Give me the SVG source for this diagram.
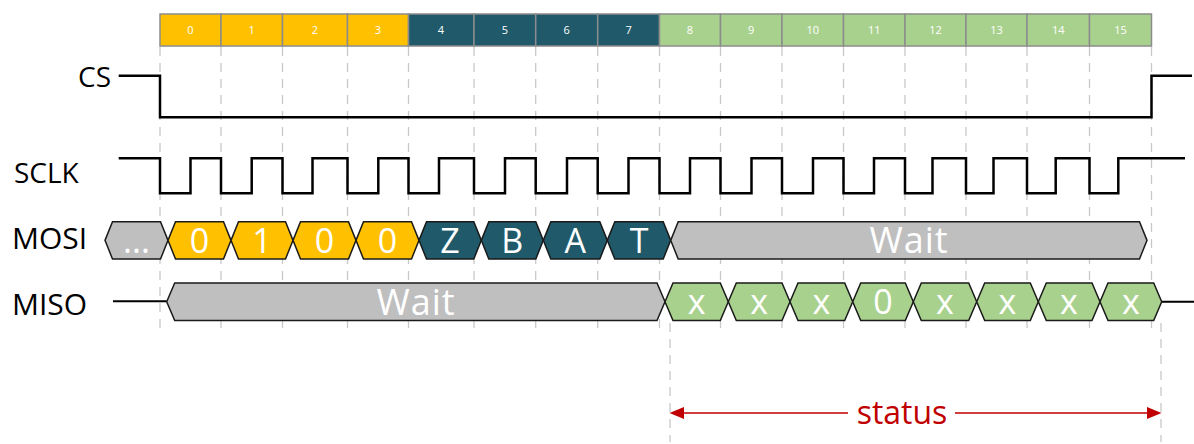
<svg xmlns="http://www.w3.org/2000/svg" width="1194" height="444" viewBox="0 0 1194 444">
<style>
.cell{stroke:#8C8C8C;stroke-width:1.5}
.y{fill:#FFC000}.t{fill:#205A6A}.g{fill:#A9D18E}.gr{fill:#BFBFBF}
.num{font-family:"Open Sans","Liberation Sans",sans-serif;font-size:11px;fill:#FFFFFF;text-anchor:middle}
.lbl{font-family:"Open Sans","Liberation Sans",sans-serif;font-size:28px;fill:#000}
.hx{stroke:#1A1A1A;stroke-width:1.5}
.ht{font-family:"Open Sans","Liberation Sans",sans-serif;font-size:34px;fill:#FFFFFF;text-anchor:middle}
.wt{font-family:"Open Sans","Liberation Sans",sans-serif;font-size:36px;fill:#FFFFFF;text-anchor:middle;letter-spacing:1px}
.grid{stroke:#C8C8C8;stroke-width:1.3;stroke-dasharray:9 7;fill:none}
.sig{stroke:#000;stroke-width:2.5;fill:none}
.red{stroke:#C00000;stroke-width:1.6;fill:none}
</style>
<g id="grid">
<path class="grid" d="M160,47V333M221,47V333M282.5,47V333M347.5,47V333M408.5,47V333M474,47V333M535.7,47V333M597.7,47V333M659.5,47V333M720.5,47V333M782,47V333M843.5,47V333M905,47V333M966,47V333M1027,47V333M1089.5,47V333M1151.5,47V333"/>
<path class="grid" d="M670,323V442M1161,323V442"/>
</g>
<g id="bitbar">
<rect class="cell y" x="160" y="14" width="61" height="32"/>
<rect class="cell y" x="221" y="14" width="61.5" height="32"/>
<rect class="cell y" x="282.5" y="14" width="65" height="32"/>
<rect class="cell y" x="347.5" y="14" width="61" height="32"/>
<rect class="cell t" x="408.5" y="14" width="65.5" height="32"/>
<rect class="cell t" x="474" y="14" width="61.7" height="32"/>
<rect class="cell t" x="535.7" y="14" width="62" height="32"/>
<rect class="cell t" x="597.7" y="14" width="61.8" height="32"/>
<rect class="cell g" x="659.5" y="14" width="61" height="32"/>
<rect class="cell g" x="720.5" y="14" width="61.5" height="32"/>
<rect class="cell g" x="782" y="14" width="61.5" height="32"/>
<rect class="cell g" x="843.5" y="14" width="61.5" height="32"/>
<rect class="cell g" x="905" y="14" width="61" height="32"/>
<rect class="cell g" x="966" y="14" width="61" height="32"/>
<rect class="cell g" x="1027" y="14" width="62.5" height="32"/>
<rect class="cell g" x="1089.5" y="14" width="62" height="32"/>
<text class="num" x="190.5" y="34">0</text>
<text class="num" x="251.7" y="34">1</text>
<text class="num" x="315" y="34">2</text>
<text class="num" x="378" y="34">3</text>
<text class="num" x="441" y="34">4</text>
<text class="num" x="505" y="34">5</text>
<text class="num" x="566.7" y="34">6</text>
<text class="num" x="628.6" y="34">7</text>
<text class="num" x="690" y="34">8</text>
<text class="num" x="751.2" y="34">9</text>
<text class="num" x="812.7" y="34">10</text>
<text class="num" x="874.2" y="34">11</text>
<text class="num" x="935.5" y="34">12</text>
<text class="num" x="996.5" y="34">13</text>
<text class="num" x="1058.2" y="34">14</text>
<text class="num" x="1120.5" y="34">15</text>
</g>
<g id="cs">
<text class="lbl" x="111" y="87" text-anchor="end">CS</text>
<path class="sig" d="M118.7,75.7H160V117.3H1151.5V75.7H1192"/>
</g>
<g id="sclk">
<text class="lbl" x="14" y="183">SCLK</text>
<path class="sig" d="M118.7,158.3H160V193.3H190.5V158.3H221V193.3H251.7V158.3H282.5V193.3H312.5V158.3H347.5V193.3H378.3V158.3H408.5V193.3H439V158.3H474V193.3H505V158.3H535.7V193.3H567V158.3H597.7V193.3H628.5V158.3H659.5V193.3H690V158.3H720.5V193.3H751.5V158.3H782V193.3H813V158.3H843.5V193.3H874V158.3H905V193.3H932.5V158.3H966V193.3H993.5V158.3H1027V193.3H1055.7V158.3H1089.5V193.3H1118.3V158.3H1185"/>
</g>
<g id="mosi">
<text class="lbl" x="12" y="248.5" style="font-size:30px">MOSI</text>
<path class="hx gr" d="M105,240.35L112.5,221.7H160.5L168,240.35L160.5,259H112.5Z"/>
<path class="hx y" d="M168,240.35L175.5,221.7H223.5L231,240.35L223.5,259H175.5Z"/>
<path class="hx y" d="M231,240.35L238.5,221.7H285.5L293,240.35L285.5,259H238.5Z"/>
<path class="hx y" d="M293,240.35L300.5,221.7H348.5L356,240.35L348.5,259H300.5Z"/>
<path class="hx y" d="M356,240.35L363.5,221.7H411.5L419,240.35L411.5,259H363.5Z"/>
<path class="hx t" d="M419,240.35L426.5,221.7H473.8L481.3,240.35L473.8,259H426.5Z"/>
<path class="hx t" d="M481.3,240.35L488.8,221.7H535.8L543.3,240.35L535.8,259H488.8Z"/>
<path class="hx t" d="M543.3,240.35L550.8,221.7H599.8L607.3,240.35L599.8,259H550.8Z"/>
<path class="hx t" d="M607.3,240.35L614.8,221.7H663.2L670.7,240.35L663.2,259H614.8Z"/>
<path class="hx gr" d="M670.7,240.35L678.2,221.7H1139.5L1147,240.35L1139.5,259H678.2Z"/>
<text class="ht" x="136.5" y="253">...</text>
<text class="ht" x="199.5" y="252.5">0</text>
<text class="ht" x="262" y="252.5">1</text>
<text class="ht" x="324.5" y="252.5">0</text>
<text class="ht" x="387.5" y="252.5">0</text>
<text class="ht" x="450" y="252.5">Z</text>
<text class="ht" x="512.3" y="252.5">B</text>
<text class="ht" x="575.3" y="252.5">A</text>
<text class="ht" x="639" y="252.5">T</text>
<text class="wt" x="909" y="252.5">Wait</text>
</g>
<g id="miso">
<text class="lbl" x="12" y="314.5" style="font-size:30px">MISO</text>
<path class="sig" d="M113,301.2H166.7M1161.7,301.7H1194" style="stroke-width:2"/>
<path class="hx gr" d="M166.7,301.75L174.7,283H657L665,301.75L657,320.5H174.7Z"/>
<path class="hx g" d="M665,301.75L673,283H720.3L728.3,301.75L720.3,320.5H673Z"/>
<path class="hx g" d="M728.3,301.75L736.3,283H782L790,301.75L782,320.5H736.3Z"/>
<path class="hx g" d="M790,301.75L798,283H844.7L852.7,301.75L844.7,320.5H798Z"/>
<path class="hx g" d="M852.7,301.75L860.7,283H905.3L913.3,301.75L905.3,320.5H860.7Z"/>
<path class="hx g" d="M913.3,301.75L921.3,283H968.7L976.7,301.75L968.7,320.5H921.3Z"/>
<path class="hx g" d="M976.7,301.75L984.7,283H1030.3L1038.3,301.75L1030.3,320.5H984.7Z"/>
<path class="hx g" d="M1038.3,301.75L1046.3,283H1092L1100,301.75L1092,320.5H1046.3Z"/>
<path class="hx g" d="M1100,301.75L1108,283H1153.7L1161.7,301.75L1153.7,320.5H1108Z"/>
<text class="wt" x="416" y="314.5">Wait</text>
<text class="ht" x="696.7" y="314">x</text>
<text class="ht" x="759.2" y="314">x</text>
<text class="ht" x="821.4" y="314">x</text>
<text class="ht" x="883" y="314">0</text>
<text class="ht" x="945" y="314">x</text>
<text class="ht" x="1007.5" y="314">x</text>
<text class="ht" x="1069" y="314">x</text>
<text class="ht" x="1130.9" y="314">x</text>
</g>
<g id="connectors">
<path class="red" d="M683,413H848M955,413H1148"/>
<polygon points="669.5,413 684,407 684,419" fill="#C00000"/>
<polygon points="1161.5,413 1147,407 1147,419" fill="#C00000"/>
</g>
<g id="status-label">
<text x="902" y="424" text-anchor="middle" style="font-family:'Open Sans','Liberation Sans',sans-serif;font-size:32px;fill:#C00000">status</text>
</g>
</svg>
